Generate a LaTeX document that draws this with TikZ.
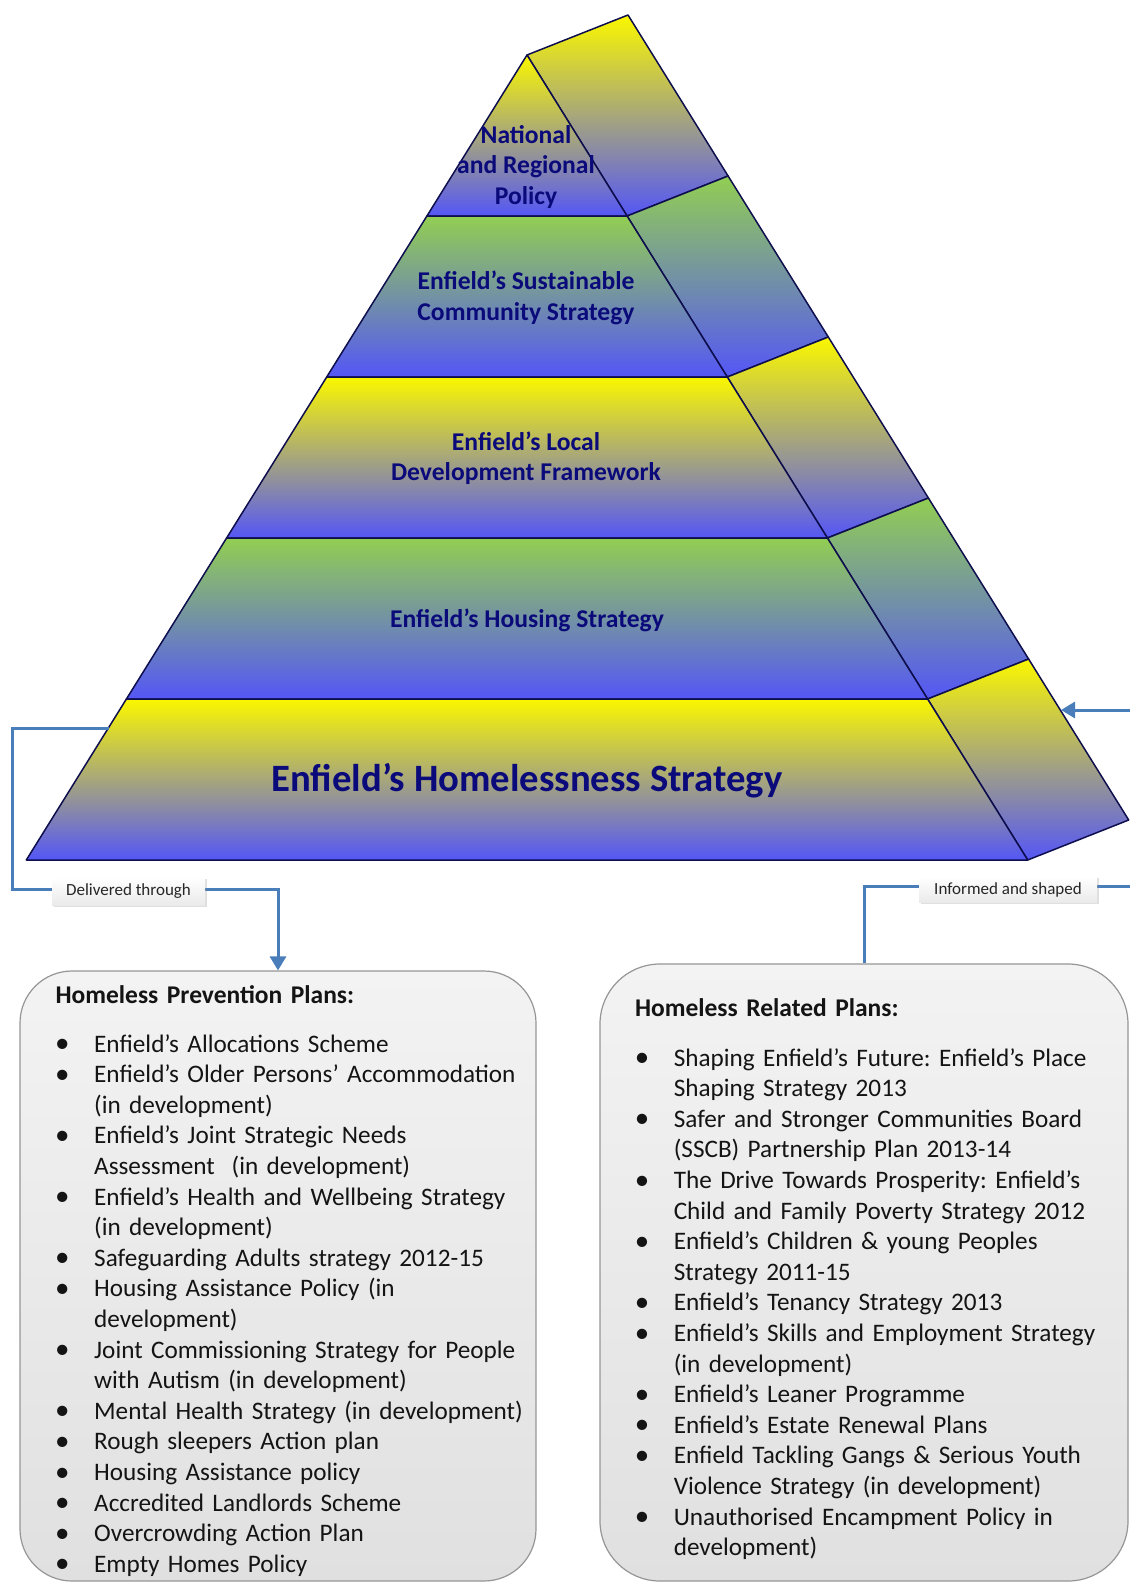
\documentclass[tikz,border=0pt]{standalone}
\usepackage{fontspec}
\setmainfont{Carlito}
\usetikzlibrary{arrows.meta,shadows}
\frenchspacing

\definecolor{pyrYellow}{RGB}{250,247,0}
\definecolor{pyrGreen}{RGB}{146,206,82}
\definecolor{pyrBlue}{RGB}{84,86,246}
\definecolor{pyrEdge}{RGB}{14,14,78}
\definecolor{pyrText}{RGB}{10,10,122}
\definecolor{connBlue}{RGB}{74,126,187}
\definecolor{boxTop}{RGB}{243,243,243}
\definecolor{boxBottom}{RGB}{224,224,224}
\definecolor{boxEdge}{RGB}{150,150,150}
\definecolor{tagBottom}{RGB}{234,234,234}

% bullet with its hanging indent, and the indent alone for wrapped lines
\newcommand{\bul}{\makebox[39pt][l]{\raisebox{-0.6pt}{\scalebox{1.15}{•}}}}
\newcommand{\cont}{\hspace*{39pt}}

\begin{document}
\begin{tikzpicture}[x=1pt,y=-1pt,
  yband/.style={top color=pyrYellow,bottom color=pyrBlue,draw=pyrEdge,line width=1.5pt,line join=round},
  gband/.style={top color=pyrGreen,bottom color=pyrBlue,draw=pyrEdge,line width=1.5pt,line join=round},
  tier/.style={text=pyrText,font=\fontsize{25.6}{30.5}\selectfont\bfseries,align=center,inner sep=0pt},
  conn/.style={draw=connBlue,line width=3pt},
  tag/.style={top color=white,bottom color=tagBottom,inner sep=0pt,minimum width=153pt,minimum height=28pt,
    font=\fontsize{17}{20}\selectfont,text=black!85,
    drop shadow={opacity=0.25,shadow xshift=1.5pt,shadow yshift=-1.5pt}},
  planbox/.style={draw=boxEdge,line width=1.2pt,top color=boxTop,bottom color=boxBottom,inner sep=0pt},
  plantext/.style={anchor=base west,inner sep=0pt,text width=520pt,align=left,
    font=\fontsize{25.2}{30.6}\selectfont,text=black!92},
  planhead/.style={plantext,font=\fontsize{25.5}{30.6}\selectfont\bfseries},
]
\useasboundingbox (0,0) rectangle (1130,1583);
\fill[white] (0,0) rectangle (1130,1583);
\clip (0,0) rectangle (1130,1583);

% front face: apex and the left/right ends of each tier boundary
\coordinate (A)  at (527,55);
\coordinate (L1) at (426.9,216)  ; \coordinate (R1) at (627.1,216);
\coordinate (L2) at (326.7,377)  ; \coordinate (R2) at (727.3,377);
\coordinate (L3) at (226.6,538)  ; \coordinate (R3) at (827.4,538);
\coordinate (L4) at (126.4,699)  ; \coordinate (R4) at (927.6,699);
\coordinate (L5) at (26.3,860)   ; \coordinate (R5) at (1027.7,860);
% side face: the right edge points pushed back
\coordinate (B0) at (628,15);
\coordinate (B1) at (728.1,176);
\coordinate (B2) at (828.3,337);
\coordinate (B3) at (928.4,498);
\coordinate (B4) at (1028.6,659);
\coordinate (B5) at (1128.7,820);

% side panels
\path[yband] (A)  -- (B0) -- (B1) -- (R1) -- cycle;
\path[gband] (R1) -- (B1) -- (B2) -- (R2) -- cycle;
\path[yband] (R2) -- (B2) -- (B3) -- (R3) -- cycle;
\path[gband] (R3) -- (B3) -- (B4) -- (R4) -- cycle;
\path[yband] (R4) -- (B4) -- (B5) -- (R5) -- cycle;

% front tiers
\path[yband] (A)  -- (R1) -- (L1) -- cycle;
\path[gband] (L1) -- (R1) -- (R2) -- (L2) -- cycle;
\path[yband] (L2) -- (R2) -- (R3) -- (L3) -- cycle;
\path[gband] (L3) -- (R3) -- (R4) -- (L4) -- cycle;
\path[yband] (L4) -- (R4) -- (R5) -- (L5) -- cycle;

% tier labels
\node[tier] (tNat) at (526,167) {National\\and Regional\\Policy};
\node[tier] (tSCS) at (526,298) {Enfield’s Sustainable\\Community Strategy};
\node[tier] (tLDF) at (526,458) {Enfield’s Local\\Development Framework};
\node[tier] (tHS)  at (527,620) {Enfield’s Housing Strategy};
\node[tier,font=\fontsize{38.7}{44}\selectfont\bfseries] (tHLS) at (527,781) {Enfield’s Homelessness Strategy};

% plan boxes
\node[planbox,rounded corners=52pt,minimum width=516pt,minimum height=610pt] (prevBox) at (278,1276) {};
\node[planbox,rounded corners=60pt,minimum width=528pt,minimum height=617pt] (relBox) at (864,1272.5) {};

\node[planhead] (prevHead) at (55.4,1003) {Homeless Prevention Plans:};
\node[plantext] (prevList) at (55,1052) {%
\bul Enfield’s Allocations Scheme\\
\bul Enfield’s Older Persons’ Accommodation\\
\cont (in development)\\
\bul Enfield’s Joint Strategic Needs\\
\cont Assessment\ \ (in development)\\
\bul Enfield’s Health and Wellbeing Strategy\\
\cont (in development)\\
\bul Safeguarding Adults strategy 2012-15\\
\bul Housing Assistance Policy (in\\
\cont development)\\
\bul Joint Commissioning Strategy for People\\
\cont with Autism (in development)\\
\bul Mental Health Strategy (in development)\\
\bul Rough sleepers Action plan\\
\bul Housing Assistance policy\\
\bul Accredited Landlords Scheme\\
\bul Overcrowding Action Plan\\
\bul Empty Homes Policy};

\node[planhead] (relHead) at (634.8,1016) {Homeless Related Plans:};
\node[plantext] (relList) at (634.6,1066) {%
\bul Shaping Enfield’s Future: Enfield’s Place\\
\cont Shaping Strategy 2013\\
\bul Safer and Stronger Communities Board\\
\cont (SSCB) Partnership Plan 2013-14\\
\bul The Drive Towards Prosperity: Enfield’s\\
\cont Child and Family Poverty Strategy 2012\\
\bul Enfield’s Children \& young Peoples\\
\cont Strategy 2011-15\\
\bul Enfield’s Tenancy Strategy 2013\\
\bul Enfield’s Skills and Employment Strategy\\
\cont (in development)\\
\bul Enfield’s Leaner Programme\\
\bul Enfield’s Estate Renewal Plans\\
\bul Enfield Tackling Gangs \& Serious Youth\\
\cont Violence Strategy (in development)\\
\bul Unauthorised Encampment Policy in\\
\cont development)};

% "Delivered through" connector
\coordinate (dStart)   at (108.5,728);
\coordinate (dLeftTop) at (12,728);
\coordinate (dLeftLow) at (12,889);
\coordinate (dRun)     at (278,889);
\draw[conn,-{Triangle[length=14pt,width=16pt]}] (dStart) -- (dLeftTop) -- (dLeftLow) -- (dRun) -- (prevBox.north);
\node[tag] (delivTag) at (128.5,891) {Delivered through};

% "Informed and shaped" connector
\coordinate (iUp)     at (864,886);
\coordinate (iRight)  at (1150,886);
\coordinate (iRise)   at (1150,710);
\coordinate (sideHit) at (1061,710);
\draw[conn,-{Triangle[length=14pt,width=16pt]}] (relBox.north) -- (iUp) -- (iRight) -- (iRise) -- (sideHit);
\node[tag,minimum width=178pt,minimum height=26pt] (shapeTag) at (1008,889.5) {Informed and shaped};
\end{tikzpicture}
\end{document}
